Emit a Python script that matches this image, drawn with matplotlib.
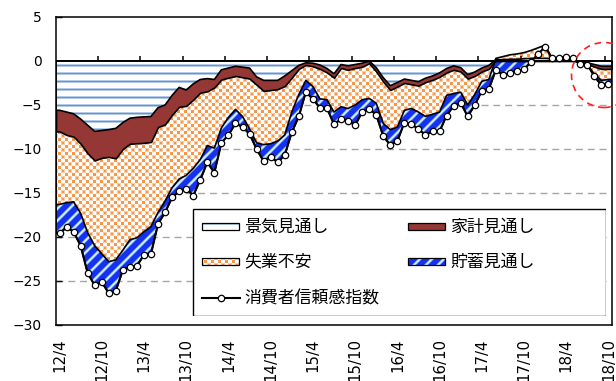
import numpy as np
import matplotlib
matplotlib.use('Agg')
import matplotlib.pyplot as plt
from matplotlib.patches import Rectangle, Ellipse

plt.rcParams['font.family'] = ['DejaVu Sans', 'Noto Sans CJK JP']

# monthly data, 2012/4 .. 2018/10
tick_labels = ['12/4', '12/10', '13/4', '13/10', '14/4', '14/10', '15/4',
               '15/10', '16/4', '16/10', '17/4', '17/10', '18/4', '18/10']

# consumer confidence index (line)
cci = [-19.6, -18.9, -19.4, -21.0, -24.1, -25.5, -25.1, -26.4, -26.1, -23.75,
       -23.4, -23.3, -22.0, -21.9, -18.5, -17.2, -15.5, -14.8, -14.5, -15.3,
       -13.5, -11.5, -12.7, -9.3, -8.4, -7.1, -7.5, -8.3, -10.0, -11.4,
       -10.9, -11.5, -10.7, -8.1, -6.3, -3.5, -4.35, -5.3, -5.35, -7.2,
       -6.6, -6.8, -7.3, -5.8, -5.5, -6.1, -8.55, -9.55, -9.1, -7.0,
       -7.15, -7.75, -8.4, -8.0, -8.0, -6.2, -5.1, -4.75, -6.3, -5.0,
       -3.4, -3.2, -1.0, -1.6, -1.35, -1.15, -0.95, -0.1, 0.8, 1.6,
       0.3, 0.3, 0.4, 0.3, -0.35, -0.4, -1.75, -2.75, -2.6]

# cumulative contributions: keiki, keiki+kakei, keiki+kakei+shitsugyo
cum_keiki = [-5.6, -5.8, -6.0, -6.6, -7.3, -8.0, -7.9, -7.8, -7.65, -7.0,
             -6.5, -6.4, -6.35, -6.3, -5.3, -5.0, -3.9, -3.0, -3.3, -2.6,
             -2.1, -2.0, -2.1, -1.0, -0.8, -0.6, -0.7, -0.8, -1.8, -2.2,
             -2.2, -2.2, -1.7, -1.1, -0.5, -0.2, -0.25, -0.45, -0.85, -1.45,
             -0.4, -0.55, -0.4, -0.25, 0.0, -0.75, -1.9, -2.8, -2.45, -2.05,
             -2.2, -2.35, -1.95, -1.7, -1.35, -0.85, -0.55, -0.75, -1.55, -1.25,
             -0.8, -0.5, 0.15, 0.15, 0.2, 0.2, 0.25, 0.3, 0.3, 0.3,
             0.25, 0.25, 0.2, 0.15, -0.1, -0.2, -0.4, -0.6, -0.6]

cum_kakei = [-8.0, -8.4, -8.6, -9.4, -10.5, -11.3, -11.0, -10.9, -11.05, -10.0,
             -9.4, -9.35, -9.3, -9.2, -7.5, -7.2, -6.1, -5.2, -5.1, -4.4,
             -3.6, -3.45, -3.0, -2.1, -1.9, -1.7, -1.85, -2.0, -2.7, -3.4,
             -3.3, -3.2, -2.85, -1.9, -0.9, -0.45, -0.6, -0.9, -1.3, -1.9,
             -0.8, -1.0, -0.8, -0.65, -0.25, -1.2, -2.35, -3.3, -2.9, -2.5,
             -2.65, -2.8, -2.4, -2.15, -1.8, -1.3, -1.0, -1.2, -2.0, -1.7,
             -1.2, -0.9, 0.1, 0.1, 0.15, 0.15, 0.2, 0.25, 0.25, 0.25,
             0.2, 0.2, 0.15, 0.1, -0.2, -0.35, -0.65, -0.9, -0.9]

cum_shitsugyo = [-16.3, -16.1, -16.0, -17.3, -19.5, -21.0, -21.9, -22.8, -22.6, -21.5,
                 -20.3, -20.1, -19.4, -18.8, -17.2, -15.9, -14.4, -13.4, -13.0, -12.2,
                 -11.2, -9.6, -9.9, -7.6, -6.4, -5.5, -6.3, -7.7, -9.3, -9.5,
                 -9.4, -9.1, -8.4, -5.8, -3.8, -2.2, -2.9, -4.3, -4.4, -5.8,
                 -5.2, -5.4, -5.0, -4.4, -4.25, -4.8, -7.1, -7.8, -7.5, -5.6,
                 -5.4, -5.8, -6.3, -6.05, -5.8, -3.9, -3.7, -3.55, -5.0, -3.8,
                 -2.3, -2.1, 0.3, 0.5, 0.7, 0.8, 0.95, 1.2, 1.5, 1.8,
                 0.2, 0.2, 0.15, 0.1, -0.3, -0.45, -1.5, -2.2, -2.1]

BROWN = '#953735'


def rgb(h):
    h = h.lstrip('#')
    return np.array([int(h[i:i + 2], 16) for i in (0, 2, 4)]) / 255.0


def tex_stripes(h, w):
    r = np.arange(h) % 8
    rows = np.ones((h, 3))
    rows[r == 0] = rgb('#6A93CD')
    rows[(r == 1) | (r == 7)] = rgb('#B3CBE9')
    return np.repeat(rows[:, None, :], w, axis=1)


def tex_dots(h, w):
    yy, xx = np.mgrid[0:h, 0:w] + 0.5
    p = 7.0

    def cheb(ox, oy):
        dx = (xx - ox + p / 2) % p - p / 2
        dy = (yy - oy + p / 2) % p - p / 2
        return np.maximum(abs(dx), abs(dy))
    d = np.minimum(cheb(0, 0), cheb(3.5, 3.5))
    a = np.clip(2.0 - d, 0, 1)[..., None]
    return 1 - a * (1 - rgb('#F79646'))


def tex_diag(h, w, p=12.0):
    yy, xx = np.mgrid[0:h, 0:w]
    c = np.cos(2 * np.pi * ((xx + yy) % p) / p)
    a = np.clip((c - 0.2) / 0.8, 0, 1)[..., None]
    return rgb('#1432F0') * (1 - a) + rgb('#D2F6FF') * a


fig = plt.figure(figsize=(6.16, 3.81), dpi=100)
ax = fig.add_axes([56 / 616, 56 / 381, 556 / 616, 308 / 381])

x = np.arange(len(cci))
xa = np.r_[-0.5, x, x[-1] + 0.5]
ext = (-0.5, x[-1] + 0.5, -30, 5)
TH, TW = 308, 556


def edge(v):
    v = np.asarray(v, float)
    return np.r_[v[0], v, v[-1]]


def textured(vals, tex, z):
    poly = ax.fill_between(xa, 0, edge(vals), facecolor='none',
                           edgecolor='black', linewidth=1.2, zorder=z + 0.1)
    im = ax.imshow(tex, extent=ext, origin='upper', interpolation='nearest',
                   aspect='auto', zorder=z)
    im.set_clip_path(poly.get_paths()[0], ax.transData)


# grid behind everything
for g in range(-25, 0, 5):
    ax.axhline(g, color='#A6A6A6', lw=1.0, ls=(0, (5, 3.5)), zorder=1)

textured(cci, tex_diag(TH, TW), 2)
textured(cum_shitsugyo, tex_dots(TH, TW), 3)
ax.fill_between(xa, 0, edge(cum_kakei), facecolor=BROWN, edgecolor='black',
                linewidth=1.2, zorder=4)
textured(cum_keiki, tex_stripes(TH, TW), 5)

ax.axhline(0, color='black', lw=1.2, zorder=6)
ax.vlines(np.arange(6, len(cci), 6) - 0.5, 0, 0.6, color='black', lw=1.1, zorder=6)

ax.plot(x, cci, color='black', lw=1.5, marker='o', ms=4.6, mfc='white',
        mec='black', mew=0.9, zorder=7)

ax.set_xlim(ext[0], ext[1])
ax.set_ylim(-30, 5)
ax.set_yticks(range(-30, 6, 5))
ax.set_xticks(np.arange(0, len(cci), 6))
ax.set_xticklabels(tick_labels, rotation=90, fontsize=10.8)
ax.tick_params(axis='x', length=0, pad=9.4)
ax.tick_params(axis='y', direction='in', length=4, width=1, pad=10, labelsize=10)
for s in ax.spines.values():
    s.set_linewidth(1.1)
    s.set_zorder(8)

# legend box
lg = fig.add_axes([192 / 616, 65 / 381, 414 / 616, 108 / 381])
lg.axis('off')
lg.add_patch(Rectangle((0.5, 0.5), 413, 107, facecolor='white',
                       edgecolor='black', lw=1.0, zorder=1))
kw, kh = 37, 7
keys = [
    (10, 18.7, tex_stripes, None, '景気見通し'),
    (216, 18.7, None, BROWN, '家計見通し'),
    (10, 53.7, tex_dots, None, '失業不安'),
    (216, 53.7, tex_diag, None, '貯蓄見通し'),
]
for kx, ky, tex, col, label in keys:
    if tex is not None:
        lg.imshow(tex(kh, kw), extent=(kx, kx + kw, ky + kh / 2, ky - kh / 2),
                  origin='upper', interpolation='nearest', aspect='auto',
                  zorder=2)
        lg.add_patch(Rectangle((kx, ky - kh / 2), kw, kh, fill=False,
                               edgecolor='black', lw=0.9, zorder=3))
    else:
        lg.add_patch(Rectangle((kx, ky - kh / 2), kw, kh, facecolor=col,
                               edgecolor='black', lw=0.9, zorder=3))
    lg.text(kx + 42, ky, label, va='center', ha='left', fontsize=12.2,
            family=['Noto Sans CJK JP'])
lg.plot([10, 48], [90.3, 90.3], color='black', lw=1.5, zorder=3)
lg.plot([29], [90.3], marker='o', ms=4.6, mfc='white', mec='black', mew=0.9,
        zorder=4)
lg.text(52, 90.3, '消費者信頼感指数', va='center', ha='left', fontsize=12.2,
        family=['Noto Sans CJK JP'])
lg.set_xlim(0, 414)
lg.set_ylim(108, 0)

# dashed highlight around the latest months
fig.add_artist(Ellipse((604 / 616, 306 / 381), 65 / 616, 65 / 381,
                       transform=fig.transFigure, fill=False,
                       edgecolor='#FF2020', lw=1.2, ls=(0, (4, 3))))

fig.savefig('out.png', dpi=100)
